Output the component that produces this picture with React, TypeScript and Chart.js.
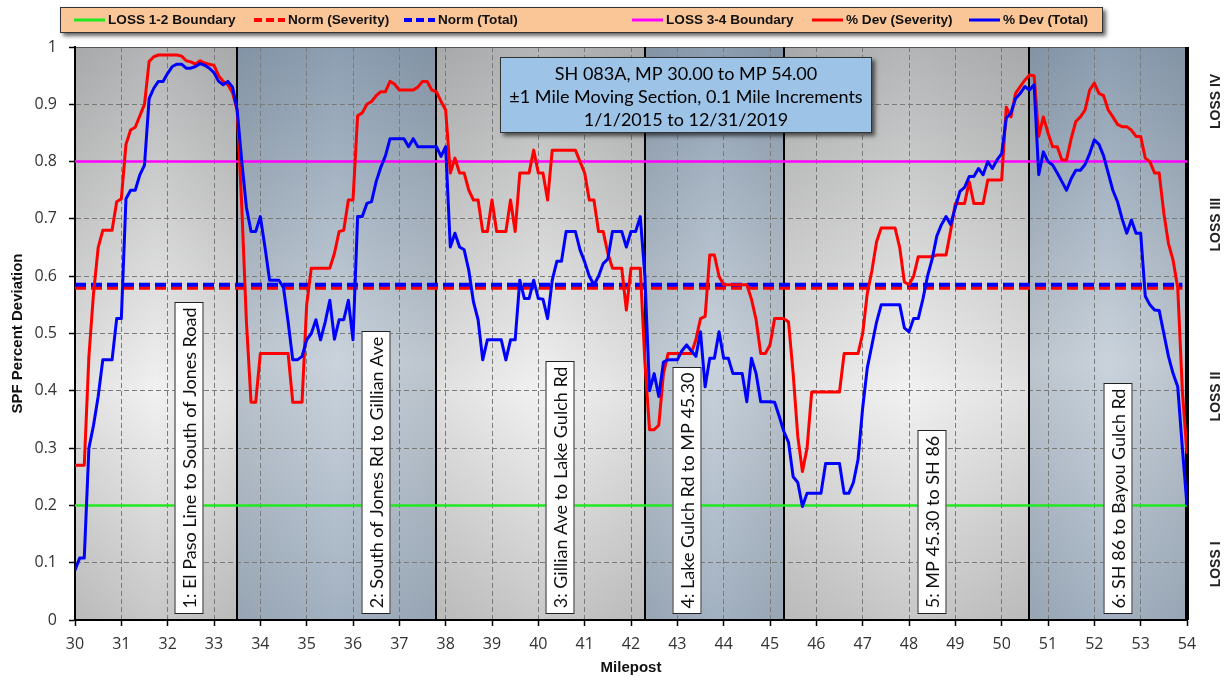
import React, { useEffect, useRef } from "react";
import { Chart, registerables } from "chart.js";

Chart.register(...registerables);

// ---------------- DATA ----------------
const START_MP = 30;
const STEP_MP = 0.1;

// % Dev (Severity), one value per 0.1 mile from MP 30.0 to MP 54.0
const severityDev = [
  0.27, 0.27, 0.27, 0.46, 0.57, 0.65, 0.68, 0.68, 0.68, 0.73,
  0.735, 0.83, 0.855, 0.86, 0.88, 0.9, 0.975, 0.983, 0.986, 0.986,
  0.986, 0.986, 0.986, 0.984, 0.976, 0.974, 0.97, 0.976, 0.972, 0.97,
  0.968, 0.95, 0.94, 0.934, 0.92, 0.89, 0.72, 0.52, 0.38, 0.38,
  0.465, 0.465, 0.465, 0.465, 0.465, 0.465, 0.465, 0.38, 0.38, 0.38,
  0.55, 0.614, 0.614, 0.614, 0.614, 0.614, 0.64, 0.678, 0.68, 0.733,
  0.733, 0.88, 0.885, 0.9, 0.905, 0.915, 0.922, 0.922, 0.94, 0.935,
  0.925, 0.925, 0.925, 0.925, 0.93, 0.94, 0.94, 0.925, 0.922, 0.905,
  0.89, 0.78, 0.806, 0.78, 0.78, 0.75, 0.733, 0.733, 0.678, 0.678,
  0.733, 0.678, 0.678, 0.678, 0.733, 0.678, 0.78, 0.78, 0.78, 0.82,
  0.78, 0.78, 0.733, 0.82, 0.82, 0.82, 0.82, 0.82, 0.82, 0.8,
  0.78, 0.733, 0.733, 0.678, 0.678, 0.64, 0.614, 0.614, 0.614, 0.541,
  0.614, 0.614, 0.614, 0.45, 0.332, 0.332, 0.34, 0.43, 0.465, 0.465,
  0.465, 0.465, 0.465, 0.465, 0.489, 0.526, 0.53, 0.637, 0.637, 0.6,
  0.585, 0.585, 0.585, 0.585, 0.585, 0.585, 0.56, 0.524, 0.465, 0.465,
  0.48, 0.526, 0.526, 0.526, 0.52, 0.43, 0.32, 0.259, 0.3, 0.398,
  0.398, 0.398, 0.398, 0.398, 0.398, 0.398, 0.465, 0.465, 0.465, 0.465,
  0.5, 0.57, 0.61, 0.66, 0.684, 0.684, 0.684, 0.684, 0.65, 0.59,
  0.585, 0.6, 0.634, 0.634, 0.634, 0.634, 0.637, 0.637, 0.637, 0.68,
  0.727, 0.727, 0.727, 0.765, 0.727, 0.727, 0.727, 0.768, 0.768, 0.768,
  0.768, 0.895, 0.878, 0.919, 0.931, 0.942, 0.951, 0.95, 0.844, 0.878,
  0.85, 0.826, 0.826, 0.803, 0.803, 0.84, 0.87, 0.878, 0.89, 0.925,
  0.937, 0.919, 0.915, 0.89, 0.878, 0.865, 0.861, 0.861, 0.855, 0.844,
  0.844, 0.806, 0.8, 0.78, 0.78, 0.71, 0.657, 0.628, 0.58, 0.4,
  0.29,
];

// % Dev (Total), one value per 0.1 mile from MP 30.0 to MP 54.0
const totalDev = [
  0.087, 0.108, 0.108, 0.3, 0.34, 0.39, 0.454, 0.454, 0.454, 0.526,
  0.526, 0.735, 0.75, 0.75, 0.777, 0.794, 0.91, 0.928, 0.94, 0.94,
  0.954, 0.966, 0.97, 0.97, 0.963, 0.963, 0.966, 0.971, 0.968, 0.963,
  0.955, 0.94, 0.934, 0.94, 0.93, 0.89, 0.8, 0.72, 0.678, 0.678,
  0.704, 0.651, 0.593, 0.593, 0.593, 0.58, 0.52, 0.454, 0.454, 0.46,
  0.489, 0.5, 0.524, 0.489, 0.52, 0.558, 0.49, 0.524, 0.524, 0.558,
  0.489, 0.704, 0.704, 0.727, 0.73, 0.765, 0.79, 0.81, 0.84, 0.84,
  0.84, 0.84, 0.826, 0.84, 0.826, 0.826, 0.826, 0.826, 0.826, 0.809,
  0.826, 0.651, 0.675, 0.651, 0.646, 0.61, 0.555, 0.524, 0.454, 0.489,
  0.489, 0.489, 0.489, 0.454, 0.489, 0.489, 0.593, 0.561, 0.561, 0.593,
  0.561, 0.56, 0.526, 0.593, 0.626, 0.626, 0.678, 0.678, 0.678, 0.646,
  0.625, 0.6, 0.585, 0.6, 0.622, 0.63, 0.678, 0.678, 0.678, 0.651,
  0.678, 0.678, 0.704, 0.6, 0.4, 0.43, 0.39, 0.45, 0.454, 0.454,
  0.454, 0.47, 0.48, 0.47, 0.46, 0.503, 0.407, 0.457, 0.457, 0.503,
  0.457, 0.457, 0.43, 0.43, 0.43, 0.381, 0.457, 0.43, 0.381, 0.381,
  0.381, 0.38, 0.355, 0.329, 0.31, 0.25, 0.24, 0.198, 0.221, 0.221,
  0.221, 0.221, 0.273, 0.273, 0.273, 0.273, 0.221, 0.221, 0.24, 0.28,
  0.37, 0.44, 0.48, 0.52, 0.55, 0.55, 0.55, 0.55, 0.55, 0.51,
  0.503, 0.526, 0.526, 0.56, 0.6, 0.63, 0.67, 0.69, 0.704, 0.69,
  0.72, 0.748, 0.755, 0.774, 0.774, 0.788, 0.777, 0.8, 0.788, 0.803,
  0.814, 0.876, 0.885, 0.91, 0.919, 0.931, 0.925, 0.934, 0.777, 0.817,
  0.8, 0.794, 0.78, 0.765, 0.75, 0.77, 0.785, 0.785, 0.795, 0.814,
  0.838, 0.83, 0.81, 0.78, 0.75, 0.73, 0.7, 0.675, 0.698, 0.675,
  0.675, 0.565, 0.55, 0.541, 0.54, 0.5, 0.46, 0.43, 0.407, 0.3,
  0.2,
];

const NORM_SEVERITY = 0.58;
const NORM_TOTAL = 0.585;
const NORM_END_MP = 53.9;
const LOSS_12 = 0.2;
const LOSS_34 = 0.8;
const X_MIN = 30;
const X_MAX = 54;

const sectionBreaks = [30, 33.5, 37.8, 42.3, 45.3, 50.6, 54];
const sectionLabels = [
  "1: El Paso Line to South of Jones Road",
  "2: South of Jones Rd to Gillian Ave",
  "3: Gillian Ave to Lake Gulch Rd",
  "4: Lake Gulch Rd to MP 45.30",
  "5: MP 45.30 to SH 86",
  "6: SH 86 to Bayou Gulch Rd",
];
const sectionLabelMileposts = [32.45, 36.5, 40.47, 43.2, 48.5, 52.5];

const lossLabels = ["LOSS IV", "LOSS III", "LOSS II", "LOSS I"];
const lossLabelLevels = [0.905, 0.69, 0.39, 0.097];

const titleLines = [
  "SH 083A, MP 30.00 to MP 54.00",
  "\u00b11 Mile Moving Section, 0.1 Mile Increments",
  "1/1/2015 to 12/31/2019",
];

const legendItems = [
  { label: "LOSS 1-2 Boundary", color: "#22e822", dash: false },
  { label: "Norm (Severity)", color: "#ff0000", dash: true },
  { label: "Norm (Total)", color: "#0000ff", dash: true },
  { label: "LOSS 3-4 Boundary", color: "#ff00ff", dash: false },
  { label: "% Dev (Severity)", color: "#ff0000", dash: false },
  { label: "% Dev (Total)", color: "#0000ff", dash: false },
];
const legendLineStarts = [74, 254, 404, 632, 812, 969];

const Y_TITLE = "SPF Percent Deviation";
const X_TITLE = "Milepost";

// ---------------- HELPERS ----------------
const mileposts = severityDev.map((_, i) => +(START_MP + i * STEP_MP).toFixed(1));
const toPoints = (vals: number[]) => vals.map((v, i) => ({ x: mileposts[i], y: v }));
const flat = (v: number, x0: number, x1: number) => [
  { x: x0, y: v },
  { x: x1, y: v },
];

const W = 1229;
const H = 681;

const decorPlugin = {
  id: "decor",
  beforeDraw(chart: any) {
    const { ctx, chartArea: ca, scales } = chart;
    const x = scales.x;
    ctx.save();
    for (let i = 0; i < sectionBreaks.length - 1; i++) {
      const x0 = x.getPixelForValue(sectionBreaks[i]);
      const x1 = x.getPixelForValue(sectionBreaks[i + 1]);
      const blue = i % 2 === 1;
      const g = ctx.createLinearGradient(0, ca.top, 0, ca.bottom);
      if (blue) {
        g.addColorStop(0, "rgb(140,158,177)");
        g.addColorStop(0.55, "rgb(202,211,220)");
        g.addColorStop(1, "rgb(162,177,193)");
      } else {
        g.addColorStop(0, "rgb(180,181,182)");
        g.addColorStop(0.6, "rgb(241,241,241)");
        g.addColorStop(1, "rgb(200,200,200)");
      }
      ctx.fillStyle = g;
      ctx.fillRect(x0, ca.top, x1 - x0, ca.bottom - ca.top);
      const hg = ctx.createLinearGradient(x0, 0, x1, 0);
      hg.addColorStop(0, "rgba(0,0,0,0.07)");
      hg.addColorStop(0.5, "rgba(0,0,0,0)");
      hg.addColorStop(1, "rgba(0,0,0,0.07)");
      ctx.fillStyle = hg;
      ctx.fillRect(x0, ca.top, x1 - x0, ca.bottom - ca.top);
    }
    ctx.restore();
  },
  beforeDatasetsDraw(chart: any) {
    const { ctx, chartArea: ca, scales } = chart;
    const x = scales.x;
    ctx.save();
    ctx.strokeStyle = "#555";
    ctx.lineWidth = 1;
    ctx.strokeRect(ca.left + 0.5, ca.top + 0.5, ca.right - ca.left - 1, ca.bottom - ca.top - 1);
    ctx.strokeStyle = "#000";
    for (let i = 1; i < sectionBreaks.length; i++) {
      const px = Math.round(x.getPixelForValue(sectionBreaks[i]));
      ctx.lineWidth = i === sectionBreaks.length - 1 ? 4 : 2;
      ctx.beginPath();
      ctx.moveTo(px, ca.top);
      ctx.lineTo(px, ca.bottom);
      ctx.stroke();
    }
    ctx.lineWidth = 2;
    ctx.beginPath();
    ctx.moveTo(ca.left, ca.top);
    ctx.lineTo(ca.left, ca.bottom);
    ctx.lineTo(ca.right, ca.bottom);
    ctx.stroke();
    ctx.restore();
  },
  afterDraw(chart: any) {
    const { ctx, chartArea: ca, scales } = chart;
    const x = scales.x;
    const y = scales.y;
    ctx.save();

    // Section label boxes
    ctx.font = "18px Lato";
    for (let i = 0; i < sectionLabels.length; i++) {
      const cx = Math.round(x.getPixelForValue(sectionLabelMileposts[i]));
      const bottom = 613.5;
      const tw = ctx.measureText(sectionLabels[i]).width;
      const bh = Math.round(tw + 10);
      const bw = 29;
      ctx.fillStyle = "#ffffff";
      ctx.fillRect(cx - bw / 2, bottom - bh, bw, bh);
      ctx.strokeStyle = "#222";
      ctx.lineWidth = 1;
      ctx.strokeRect(cx - bw / 2 + 0.5, bottom - bh, bw - 1, bh);
      ctx.save();
      ctx.translate(cx + 1, bottom - bh / 2);
      ctx.rotate(-Math.PI / 2);
      ctx.fillStyle = "#111";
      ctx.textAlign = "center";
      ctx.textBaseline = "middle";
      ctx.fillText(sectionLabels[i], 0, 0);
      ctx.restore();
    }

    // Title box
    const tb = { x: 500, y: 57, w: 372, h: 76 };
    ctx.save();
    ctx.shadowColor = "rgba(0,0,0,0.6)";
    ctx.shadowBlur = 4;
    ctx.shadowOffsetX = 3;
    ctx.shadowOffsetY = 3;
    ctx.fillStyle = "#9dc3e6";
    ctx.fillRect(tb.x, tb.y, tb.w, tb.h);
    ctx.restore();
    ctx.strokeStyle = "#333";
    ctx.lineWidth = 1;
    ctx.strokeRect(tb.x + 0.5, tb.y + 0.5, tb.w - 1, tb.h - 1);
    ctx.fillStyle = "#000";
    ctx.font = "18px Lato";
    ctx.textAlign = "center";
    ctx.textBaseline = "middle";
    const tcx = tb.x + tb.w / 2;
    [74, 97, 120].forEach((ty, k) => ctx.fillText(titleLines[k], tcx, ty));

    // Legend box
    const lb = { x: 60, y: 7, w: 1043, h: 26 };
    ctx.save();
    ctx.shadowColor = "rgba(0,0,0,0.6)";
    ctx.shadowBlur = 4;
    ctx.shadowOffsetX = 3;
    ctx.shadowOffsetY = 3;
    ctx.fillStyle = "rgb(250,198,152)";
    ctx.fillRect(lb.x, lb.y, lb.w, lb.h);
    ctx.restore();
    ctx.strokeStyle = "#333";
    ctx.strokeRect(lb.x + 0.5, lb.y + 0.5, lb.w - 1, lb.h - 1);
    ctx.font = "bold 13.6px Arial, 'Liberation Sans'";
    ctx.textAlign = "left";
    ctx.textBaseline = "middle";
    legendItems.forEach((it, k) => {
      const sx = legendLineStarts[k];
      const ly = 20;
      ctx.save();
      ctx.strokeStyle = it.color;
      ctx.lineWidth = it.dash ? 4 : 3;
      if (it.dash) ctx.setLineDash([8, 4]);
      ctx.beginPath();
      ctx.moveTo(sx, ly);
      ctx.lineTo(sx + 31, ly);
      ctx.stroke();
      ctx.restore();
      ctx.fillStyle = "#111";
      ctx.fillText(it.label, sx + 34, ly + 0.5);
    });

    // LOSS labels on right
    ctx.font = "bold 14px Arial, 'Liberation Sans'";
    ctx.fillStyle = "#222";
    ctx.textAlign = "center";
    ctx.textBaseline = "middle";
    lossLabels.forEach((t, k) => {
      ctx.save();
      ctx.translate(1216, y.getPixelForValue(lossLabelLevels[k]));
      ctx.rotate(-Math.PI / 2);
      ctx.fillText(t, 0, 0);
      ctx.restore();
    });

    // Axis titles
    ctx.font = "bold 15px Arial, 'Liberation Sans'";
    ctx.fillStyle = "#111";
    ctx.save();
    ctx.translate(18, (ca.top + ca.bottom) / 2 + 0);
    ctx.rotate(-Math.PI / 2);
    ctx.fillText(Y_TITLE, 0, 0);
    ctx.restore();
    ctx.fillText(X_TITLE, (ca.left + ca.right) / 2, 668);

    ctx.restore();
  },
};

export default function App() {
  const ref = useRef<HTMLCanvasElement | null>(null);

  useEffect(() => {
    if (!ref.current) return;
    const chart = new Chart(ref.current, {
      type: "line",
      data: {
        datasets: [
          {
            label: "% Dev (Total)",
            data: toPoints(totalDev),
            borderColor: "#0000ff",
            borderWidth: 3,
            pointRadius: 0,
            tension: 0,
            order: 0,
          },
          {
            label: "% Dev (Severity)",
            data: toPoints(severityDev),
            borderColor: "#ff0000",
            borderWidth: 3,
            pointRadius: 0,
            tension: 0,
            order: 1,
          },
          {
            label: "Norm (Total)",
            data: flat(NORM_TOTAL, X_MIN, NORM_END_MP),
            borderColor: "#0000ff",
            borderWidth: 4,
            borderDash: [11, 5],
            pointRadius: 0,
            order: 2,
          },
          {
            label: "Norm (Severity)",
            data: flat(NORM_SEVERITY, X_MIN, NORM_END_MP),
            borderColor: "#ff0000",
            borderWidth: 4,
            borderDash: [11, 5],
            pointRadius: 0,
            order: 3,
          },
          {
            label: "LOSS 3-4 Boundary",
            data: flat(LOSS_34, X_MIN, X_MAX),
            borderColor: "#ff00ff",
            borderWidth: 2.5,
            pointRadius: 0,
            order: 4,
          },
          {
            label: "LOSS 1-2 Boundary",
            data: flat(LOSS_12, X_MIN, X_MAX),
            borderColor: "#22e822",
            borderWidth: 2.5,
            pointRadius: 0,
            order: 5,
          },
        ],
      },
      options: {
        animation: false,
        responsive: false,
        devicePixelRatio: 1,
        layout: { padding: { top: 47, right: 42, left: 0, bottom: 0 } },
        plugins: { legend: { display: false }, tooltip: { enabled: false } },
        elements: { line: { borderJoinStyle: "round", fill: false } },
        scales: {
          x: {
            type: "linear",
            min: X_MIN,
            max: X_MAX,
            ticks: {
              stepSize: 1,
              autoSkip: false,
              maxRotation: 0,
              padding: 9,
              color: "#333",
              font: { family: "'Open Sans'", size: 16 },
            },
            grid: { color: "#7a7a7a", lineWidth: 1, tickLength: 6, tickColor: "#000", tickWidth: 1.5 },
            border: { display: true, color: "#000", width: 2, dash: [5, 3] },
            afterFit: (s: any) => {
              s.height = 61;
            },
          },
          y: {
            min: 0,
            max: 1,
            ticks: {
              stepSize: 0.1,
              padding: 12,
              color: "#333",
              font: { family: "'Open Sans'", size: 16 },
              callback: (v: any) => String(Number(Number(v).toFixed(1))),
            },
            grid: { color: "#7a7a7a", lineWidth: 1, tickLength: 6, tickColor: "#000", tickWidth: 1.5 },
            border: { display: true, color: "#000", width: 2, dash: [5, 3] },
            afterFit: (s: any) => {
              s.width = 75;
            },
          },
        },
      },
      plugins: [decorPlugin],
    } as any);
    return () => chart.destroy();
  }, []);

  return (
    <div style={{ position: "fixed", left: 0, top: 0, width: W, height: H, background: "#fff" }}>
      <canvas ref={ref} width={W} height={H} style={{ width: W, height: H, display: "block" }} />
    </div>
  );
}
